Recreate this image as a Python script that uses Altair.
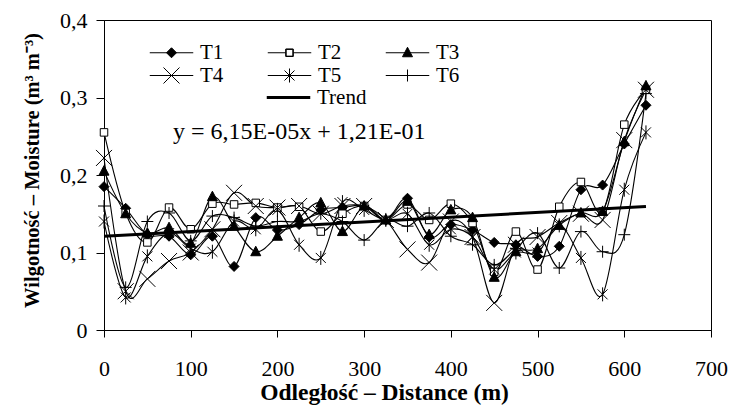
import altair as alt
import pandas as pd

distance = [0, 25, 50, 75, 100, 125, 150, 175, 200, 225, 250, 275, 300,
            325, 350, 375, 400, 425, 450, 475, 500, 525, 550, 575, 600, 625]

T1 = [0.185, 0.157, 0.123, 0.121, 0.097, 0.121, 0.082, 0.145, 0.129, 0.136, 0.155, 0.158, 0.160,
      0.142, 0.170, 0.120, 0.136, 0.129, 0.113, 0.110, 0.095, 0.108, 0.181, 0.187, 0.240, 0.290]
T2 = [0.255, 0.151, 0.113, 0.158, 0.130, 0.163, 0.162, 0.164, 0.158, 0.159, 0.127, 0.150, 0.160,
      0.142, 0.162, 0.142, 0.163, 0.138, 0.075, 0.127, 0.078, 0.159, 0.191, 0.153, 0.265, 0.310]
T3 = [0.205, 0.150, 0.125, 0.132, 0.112, 0.172, 0.134, 0.101, 0.121, 0.145, 0.164, 0.127, 0.160,
      0.142, 0.166, 0.123, 0.155, 0.145, 0.068, 0.101, 0.105, 0.135, 0.151, 0.153, 0.243, 0.315]
T4 = [0.222, 0.050, 0.066, 0.089, 0.100, 0.130, 0.177, 0.160, 0.158, 0.160, 0.150, 0.160, 0.160,
      0.142, 0.104, 0.087, 0.140, 0.120, 0.035, 0.110, 0.120, 0.138, 0.150, 0.142, 0.245, 0.310]
T5 = [0.140, 0.042, 0.095, 0.125, 0.105, 0.101, 0.140, 0.130, 0.155, 0.110, 0.093, 0.165, 0.155,
      0.142, 0.150, 0.110, 0.130, 0.120, 0.078, 0.100, 0.100, 0.135, 0.093, 0.046, 0.181, 0.255]
T6 = [0.160, 0.055, 0.140, 0.151, 0.115, 0.147, 0.145, 0.134, 0.140, 0.140, 0.150, 0.140, 0.116,
      0.142, 0.134, 0.151, 0.121, 0.110, 0.084, 0.105, 0.125, 0.080, 0.127, 0.101, 0.123, 0.305]

series_names = ["T1", "T2", "T3", "T4", "T5", "T6"]
series_values = [T1, T2, T3, T4, T5, T6]

trend_x = [0, 625]
trend_y = [0.1210, 0.1594]
trend_name = ["Trend"]
equation = "y = 6,15E-05x + 1,21E-01"

x_ticks = [0, 100, 200, 300, 400, 500, 600, 700]
y_ticks = [0, 0.1, 0.2, 0.3, 0.4]

rows = []
for name, vals in zip(series_names, series_values):
    for d, v in zip(distance, vals):
        rows.append({"x": d, "y": v, "series": name})
df = pd.DataFrame(rows)
trend_df = pd.DataFrame({"x": trend_x, "y": trend_y, "name": trend_name * len(trend_x)})

FONT = "Liberation Serif"

# marker shapes (unit = 5 px at size 100)
marker_paths = [
    "M0,-1L1,0L0,1L-1,0Z",
    "M-0.75,-0.75H0.75V0.75H-0.75Z",
    "M0,-1.1L1,0.8L-1,0.8Z",
    "M-1.6,-1.6L1.6,1.6M-1.6,1.6L1.6,-1.6",
    "M-1,-1L1,1M-1,1L1,-1M0,-1.4L0,1.4",
    "M-1.2,0L1.2,0M0,-1.2L0,1.2",
]
marker_fill = ["black", "white", "black", "black", "black", "black"]

legend_paths = [
    "M-4.35,0H4.35M0,-1L1,0L0,1L-1,0Z",
    "M-4.35,0H-0.75M0.75,0H4.35M-0.75,-0.75H0.75V0.75H-0.75ZM-0.68,-0.68V0.68H0.68V-0.68Z",
    "M-4.35,0H4.35M0,-1.1L1,0.8L-1,0.8Z",
    "M-4.35,0H4.35M-1.6,-1.6L1.6,1.6M-1.6,1.6L1.6,-1.6",
    "M-4.35,0H4.35M-1,-1L1,1M-1,1L1,-1M0,-1.4L0,1.4",
    "M-4.35,0H4.35M-1.2,0L1.2,0M0,-1.2L0,1.2",
]

x_enc = alt.X("x:Q", scale=alt.Scale(domain=[0, 700], nice=False),
              axis=alt.Axis(values=x_ticks, title="Odległość – Distance (m)", format="d",
                            tickSize=7, labelPadding=21, titleX=280, titleY=62,
                            titleBaseline="middle", titleFontSize=23.5))
y_enc = alt.Y("y:Q", scale=alt.Scale(domain=[0, 0.4], nice=False),
              axis=alt.Axis(values=y_ticks, title="Wilgotność – Moisture (m³ m⁻³)",
                            labelExpr="datum.value == 0 ? '0' : replace(format(datum.value, '.1f'), '.', ',')",
                            tickSize=8, labelPadding=9, titleX=-72, titleY=150,
                            titleAlign="center", titleBaseline="middle", titleAngle=270,
                            titleFontSize=20.5))

base = alt.Chart(df)

lines = base.mark_line(interpolate="cardinal", color="black", strokeWidth=1.1).encode(
    x=x_enc, y=y_enc, detail="series:N")

markers = base.mark_point(size=100, stroke="black", strokeWidth=1, opacity=1).encode(
    x="x:Q", y="y:Q",
    shape=alt.Shape("series:N", scale=alt.Scale(domain=series_names, range=marker_paths), legend=None),
    fill=alt.Fill("series:N", scale=alt.Scale(domain=series_names, range=marker_fill), legend=None),
)

legend_layer = base.transform_filter("false").mark_point(
    size=100, filled=False, fill="black", stroke="black", color="black", strokeWidth=1, opacity=1
).encode(
    shape=alt.Shape("series:N", scale=alt.Scale(domain=series_names, range=legend_paths),
                    legend=alt.Legend(title=None, orient="none", legendX=57, legendY=22,
                                      direction="horizontal", columns=3, columnPadding=41,
                                      rowPadding=1, labelOffset=18, symbolSize=100, padding=0,
                                      labelFont=FONT, labelFontSize=21, labelColor="black",
                                      symbolStrokeWidth=1))
)

trend = alt.Chart(trend_df).mark_line(strokeWidth=3).encode(
    x="x:Q", y="y:Q",
    color=alt.Color("name:N", scale=alt.Scale(domain=trend_name, range=["black"]),
                    legend=alt.Legend(title=None, orient="none", legendX=174, legendY=67,
                                      symbolType="M-4.35,0H4.35", symbolSize=100,
                                      symbolStrokeWidth=3, labelOffset=18, padding=0,
                                      labelFont=FONT, labelFontSize=21, labelColor="black"))
)

eq_text = alt.Chart(pd.DataFrame({"t": [equation]})).mark_text(
    font=FONT, fontSize=24, align="left", baseline="alphabetic", color="black"
).encode(text="t:N", x=alt.value(69), y=alt.value(119))

chart = alt.layer(lines, markers, trend, legend_layer, eq_text).resolve_scale(
    shape="independent"
).properties(
    width=607, height=310,
    autosize=alt.AutoSizeParams(type="none"),
    padding={"left": 104, "top": 20, "right": 21, "bottom": 82},
    background="white",
).configure_view(
    stroke="black", strokeWidth=1
).configure_axis(
    labelFont=FONT, labelFontSize=22, labelColor="black",
    titleFont=FONT, titleFontWeight="bold", titleColor="black",
    domainColor="black", tickColor="black", domainWidth=1, tickWidth=1, grid=False,
    labelFlush=False, labelOverlap=False
)

chart.save("out.html", embed_options={"renderer": "svg", "actions": False})
